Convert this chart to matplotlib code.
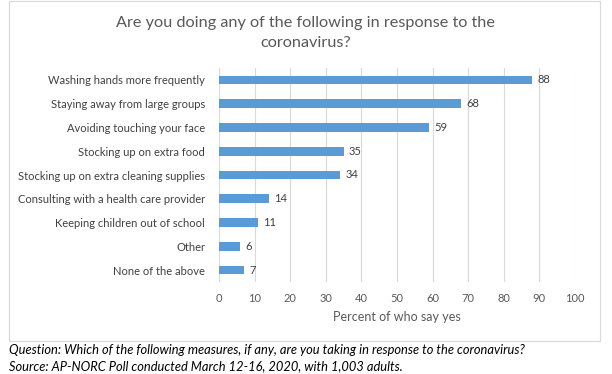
import matplotlib
matplotlib.use("Agg")
import matplotlib.pyplot as plt
from matplotlib.patches import Rectangle

plt.rcParams['font.family'] = ['Lato', 'DejaVu Sans']

CATEGORIES = [
    "Washing hands more frequently",
    "Staying away from large groups",
    "Avoiding touching your face",
    "Stocking up on extra food",
    "Stocking up on extra cleaning supplies",
    "Consulting with a health care provider",
    "Keeping children out of school",
    "Other",
    "None of the above",
]
VALUES = [88, 68, 59, 35, 34, 14, 11, 6, 7]
X_TICKS = list(range(0, 101, 10))

TITLE = "Are you doing any of the following in response to the\ncoronavirus?"
X_LABEL = "Percent of who say yes"
CAPTION = ("Question: Which of the following measures, if any, are you taking in response to the coronavirus?\n"
           "Source: AP-NORC Poll conducted March 12-16, 2020, with 1,003 adults.")

BAR_COLOR = "#5B9BD5"
TEXT_COLOR = "#595959"

fig = plt.figure(figsize=(6.12, 3.74), dpi=100)
ax = fig.add_axes([219 / 612, 1 - 282 / 374, 356 / 612, 214 / 374])

ypos = list(range(len(CATEGORIES)))
ax.barh(ypos, VALUES, height=0.36, color=BAR_COLOR, zorder=3)
for y, v in zip(ypos, VALUES):
    ax.text(v + 1.5, y, str(v), va="center", ha="left", fontsize=8, color="#404040")

ax.set_yticks(ypos)
ax.set_yticklabels(CATEGORIES, fontsize=8, color="#404040")
ax.set_ylim(len(CATEGORIES) - 0.5, -0.5)
ax.set_xlim(0, 100)
ax.set_xticks(X_TICKS)
ax.set_xticklabels([str(t) for t in X_TICKS], fontsize=8, color=TEXT_COLOR)
ax.tick_params(length=0, pad=8)
ax.tick_params(axis="y", pad=10)
ax.xaxis.grid(True, color="#D9D9D9", linewidth=0.8, zorder=0)
for s in ax.spines.values():
    s.set_visible(False)
ax.axvline(0, color="#D9D9D9", linewidth=0.8, zorder=1)
ax.set_xlabel(X_LABEL, fontsize=9, color=TEXT_COLOR, labelpad=5)

fig.text(0.5, 1 - 33 / 374, TITLE, ha="center", va="center", fontsize=11.7,
         color=TEXT_COLOR, linespacing=1.6)

fig.patches.append(Rectangle((9 / 612, 1 - 341 / 374), 591 / 612, 340 / 374,
                             transform=fig.transFigure, fill=False,
                             edgecolor="#D9D9D9", linewidth=0.8))

fig.text(9 / 612, 1 - 358 / 374, CAPTION, ha="left", va="center", fontsize=9.3,
         style="italic", color="black", linespacing=1.35)

fig.savefig("out.png", dpi=100)
